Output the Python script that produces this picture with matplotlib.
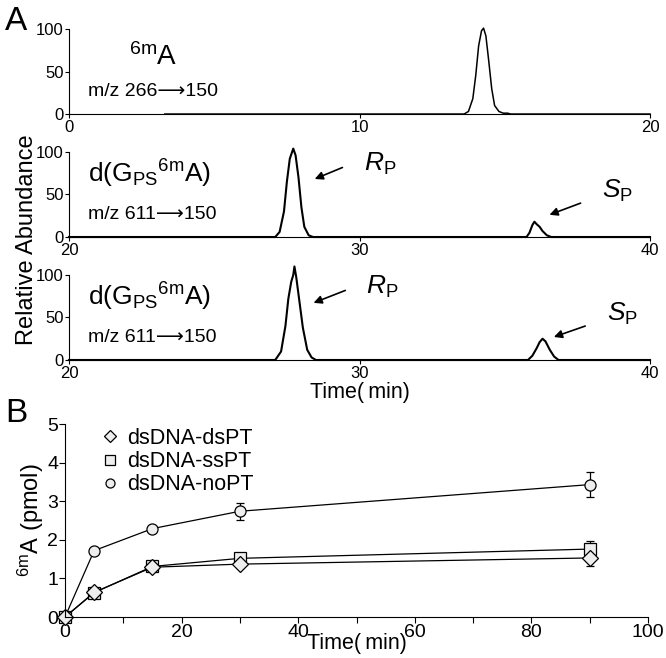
import numpy as np
import matplotlib
matplotlib.use("Agg")
import matplotlib.pyplot as plt
from matplotlib.lines import Line2D

plt.rcParams['font.family'] = ['Liberation Sans', 'DejaVu Sans']
plt.rcParams['mathtext.fontset'] = 'custom'
plt.rcParams['mathtext.rm'] = 'Liberation Sans'
plt.rcParams['mathtext.it'] = 'Liberation Sans:italic'

# chromatogram traces (time in min, relative abundance)
a1_t = [3.3, 13.6, 13.75, 13.9, 14.0, 14.1, 14.2, 14.27, 14.35, 14.45, 14.55, 14.65, 14.8, 14.95, 15.1, 15.2, 20.0]
a1_y = [0, 0, 3, 18, 45, 80, 98, 101, 92, 62, 30, 10, 3, 1, 1, 0, 0]

a2_t = [20.0, 27.1, 27.25, 27.4, 27.5, 27.6, 27.68, 27.72, 27.8, 27.9, 28.0, 28.1, 28.25, 28.4,
        35.75, 35.85, 35.95, 36.02, 36.1, 36.2, 36.3, 36.45, 36.6, 40.0]
a2_y = [0, 0, 6, 30, 65, 92, 100, 104, 96, 70, 35, 12, 2, 0,
        0, 5, 14, 18, 15, 12, 7, 2, 0, 0]

a3_t = [20.0, 27.1, 27.3, 27.45, 27.55, 27.65, 27.72, 27.76, 27.82, 27.92, 28.05, 28.2, 28.35, 28.5,
        35.8, 35.95, 36.1, 36.2, 36.3, 36.4, 36.55, 36.7, 36.85, 40.0]
a3_y = [0, 0, 10, 40, 72, 92, 100, 110, 98, 72, 38, 12, 3, 0,
        0, 5, 14, 21, 25, 22, 12, 4, 0, 0]

# panel B kinetics
time_b = [0, 5, 15, 30, 90]
ds_pt = [0, 0.64, 1.29, 1.37, 1.53]
ds_pt_err = [0, 0.03, 0.04, 0.04, 0.2]
ss_pt = [0, 0.63, 1.31, 1.52, 1.76]
ss_pt_err = [0, 0.03, 0.04, 0.04, 0.2]
no_pt = [0, 1.72, 2.29, 2.74, 3.43]
no_pt_err = [0, 0.07, 0.07, 0.22, 0.33]

fig = plt.figure(figsize=(6.66, 6.58), dpi=100)

def chrom_axes(bottom, xlim, xticks):
    ax = fig.add_axes([0.1036, bottom, 0.8724, 0.1486])
    ax.set_xlim(*xlim)
    ax.set_ylim(0, 115)
    ax.spines['top'].set_visible(False)
    ax.spines['right'].set_visible(False)
    ax.spines['left'].set_bounds(0, 100)
    ax.set_yticks([0, 50, 100])
    ax.set_xticks(xticks)
    ax.tick_params(labelsize=12, length=3, pad=1)
    return ax

ax1 = chrom_axes(0.8267, (0, 20), [0, 10, 20])
ax1.plot(a1_t, a1_y, color='black', lw=1.1, clip_on=False)
ax1.text(2.9, 67, r"$^{\rm 6m}$A", fontsize=20, ha='center', va='center')
ax1.text(0.65, 26, "m/z 266\u27f6150", fontsize=14, ha='left', va='center')

ax2 = chrom_axes(0.6398, (20, 40), [20, 30, 40])
ax2.plot(a2_t, a2_y, color='black', lw=1.5, clip_on=False)

ax3 = chrom_axes(0.4529, (20, 40), [20, 30, 40])
ax3.plot(a3_t, a3_y, color='black', lw=1.5, clip_on=False)

for ax, rp, sp in [(ax2, (29.5, 83, 28.37, 67), (37.7, 41, 36.45, 25)),
                   (ax3, (29.6, 83, 28.33, 66), (37.86, 41, 36.6, 26))]:
    ax.text(20.65, 74, r"d(G$_{\rm PS}$$^{\rm 6m}$A)", fontsize=19, ha='left', va='center')
    ax.text(20.65, 27, "m/z 611\u27f6150", fontsize=14, ha='left', va='center')
    ax.annotate("", xy=(rp[2], rp[3]), xytext=(rp[0], rp[1]),
                arrowprops=dict(arrowstyle='-|>', color='black', lw=1.2, mutation_scale=12))
    ax.annotate("", xy=(sp[2], sp[3]), xytext=(sp[0], sp[1]),
                arrowprops=dict(arrowstyle='-|>', color='black', lw=1.2, mutation_scale=12))
    ax.text(rp[0] + 1.2, 86, r"$R$$_{\rm P}$", fontsize=19, ha='center', va='center')
    ax.text(sp[0] + 1.2, 54, r"$S$$_{\rm P}$", fontsize=19, ha='center', va='center')

fig.text(0.04, 0.635, "Relative Abundance", rotation=90, fontsize=17, ha='center', va='center')
fig.text(0.54, 0.404, "Time(\u2009min)", fontsize=15.5, ha='center', va='center')
fig.text(0.024, 0.968, "A", fontsize=24, ha='center', va='center')
fig.text(0.024, 0.372, "B", fontsize=24, ha='center', va='center')

# panel B
axb = fig.add_axes([0.0976, 0.0623, 0.8754, 0.2933])
axb.set_xlim(0, 100)
axb.set_ylim(0, 5)
axb.spines['top'].set_visible(False)
axb.spines['right'].set_visible(False)
axb.set_xticks(np.arange(0, 101, 10))
axb.set_xticklabels([str(v) if v % 20 == 0 else "" for v in range(0, 101, 10)])
axb.set_yticks([0, 1, 2, 3, 4, 5])
axb.tick_params(labelsize=14, length=4, pad=1)

fill = '#eeeeee'
series = [(ds_pt, ds_pt_err, 'D', 8, 'dsDNA-dsPT'),
          (ss_pt, ss_pt_err, 's', 8, 'dsDNA-ssPT'),
          (no_pt, no_pt_err, 'o', 8, 'dsDNA-noPT')]
handles = []
for vals, err, mk, ms, lab in series[::-1]:
    axb.errorbar(time_b, vals, yerr=err, color='black', lw=0.9, marker=mk, ms=ms,
                 mfc=fill, mec='black', mew=0.9, capsize=3, elinewidth=0.9, clip_on=False)
for vals, err, mk, ms, lab in series:
    handles.append(Line2D([], [], linestyle='none', marker=mk, ms=ms - 1.5,
                          mfc=fill, mec='black', mew=0.9, label=lab))
axb.legend(handles=handles, loc='upper left', bbox_to_anchor=(0.025, 1.08), frameon=False,
           fontsize=15.5, handletextpad=0.3, labelspacing=0.1, handlelength=1.0)
axb.set_xlabel("Time(\u2009min)", fontsize=15.5, labelpad=-6)
axb.set_ylabel(r"$^{\rm 6m}$A (pmol)", fontsize=17, labelpad=1)

fig.savefig("out.png", dpi=100)
